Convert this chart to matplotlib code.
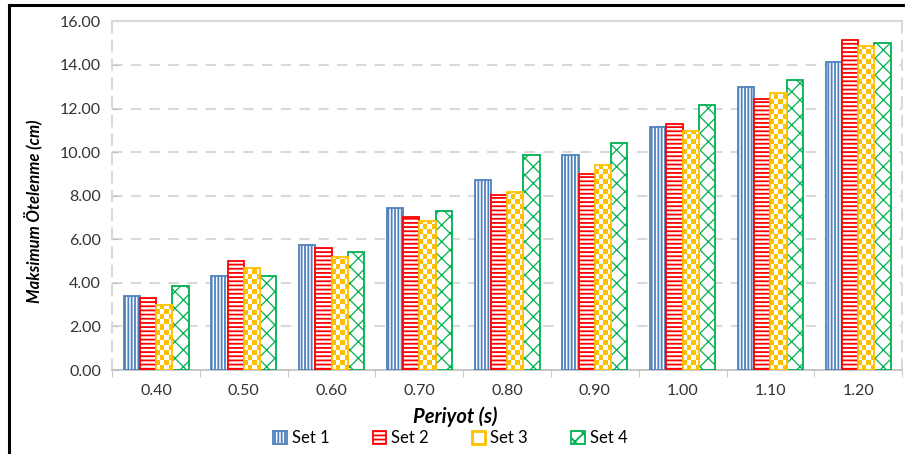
import numpy as np
import matplotlib
matplotlib.use('Agg')
import matplotlib.pyplot as plt
from matplotlib.colors import ListedColormap
from matplotlib.patches import Rectangle
from matplotlib.lines import Line2D

plt.rcParams['font.family'] = ['Lato', 'DejaVu Sans']
plt.rcParams['hatch.linewidth'] = 1.3

# Datos
periyot = ['0.40', '0.50', '0.60', '0.70', '0.80', '0.90', '1.00', '1.10', '1.20']
set1 = [3.40, 4.30, 5.73, 7.43, 8.73, 9.85, 11.15, 12.98, 14.15]
set2 = [3.30, 5.00, 5.60, 7.02, 8.03, 8.98, 11.31, 12.42, 15.15]
set3 = [3.00, 4.70, 5.19, 6.85, 8.15, 9.42, 10.97, 12.72, 14.88]
set4 = [3.86, 4.30, 5.42, 7.30, 9.85, 10.41, 12.15, 13.30, 15.00]
etiquetas = ['Set 1', 'Set 2', 'Set 3', 'Set 4']

azul = '#4F81BD'
rojo = '#FF0000'
naranja = '#FFC000'
verde = '#00B050'

fig = plt.figure(figsize=(9.05, 4.54), dpi=100)
ax = fig.add_axes([0.124, 0.185, 0.8727, 0.768])

x = np.arange(len(periyot))
w = 0.185
off = [-1.5 * w, -0.5 * w, 0.5 * w, 1.5 * w]

b1 = ax.bar(x + off[0], set1, w, color='white', edgecolor=azul, hatch='|||||', linewidth=1.3, zorder=3)
b2 = ax.bar(x + off[1], set2, w, color='white', edgecolor=rojo, hatch='----', linewidth=1.3, zorder=3)
b3 = ax.bar(x + off[2], set3, w, color='none', edgecolor=naranja, linewidth=1.3, zorder=4)
b4 = ax.bar(x + off[3], set4, w, color='white', edgecolor=verde, hatch='xx', linewidth=1.3, zorder=3)
for barra in b4:
    if hasattr(barra, 'set_hatch_linewidth'):
        barra.set_hatch_linewidth(0.9)

# damero para el Set 3
cmap_dam = ListedColormap(['white', naranja])
for barra in b3:
    x0 = barra.get_x()
    alto = barra.get_height()
    nx = 4
    ny = int(np.ceil(alto / 0.23))
    i, j = np.indices((ny, nx))
    damero = (i + j) % 2
    im = ax.imshow(damero, extent=(x0, x0 + w, 0, ny * 0.23), origin='lower',
                   cmap=cmap_dam, interpolation='nearest', aspect='auto', zorder=3)
    im.set_clip_path(barra)

ax.set_xlim(-0.5, len(periyot) - 0.5)
ax.set_ylim(0, 16)
ax.set_yticks(np.arange(0, 16.1, 2))
ax.set_yticklabels(['%.2f' % v for v in np.arange(0, 16.1, 2)])
ax.set_xticks(x)
ax.set_xticklabels(periyot)
ax.set_xticks(np.arange(-0.5, len(periyot)), minor=True)

ax.tick_params(axis='x', which='major', length=0, labelsize=11.5, colors='#333333', pad=10)
ax.tick_params(axis='x', which='minor', length=5, color='#BFBFBF', direction='out')
ax.tick_params(axis='y', length=4, direction='in', color='#BFBFBF', labelsize=11.5,
               labelcolor='#333333', pad=8)

ax.grid(axis='y', color='#D9D9D9', linestyle=(0, (5, 4)), linewidth=1.5, zorder=0)
for lado in ['left', 'right']:
    ax.spines[lado].set_color('#D9D9D9')
    ax.spines[lado].set_linestyle((0, (5, 4)))
    ax.spines[lado].set_linewidth(1.5)
ax.spines['top'].set_color('#D9D9D9')
ax.spines['top'].set_linewidth(1.5)
ax.spines['bottom'].set_color('#BFBFBF')
ax.spines['bottom'].set_linewidth(1.2)

ax.set_xlabel('Periyot (s)', fontsize=14.5, fontweight='bold', style='italic')
ax.xaxis.set_label_coords(0.434, -0.105)
ax.set_ylabel('Maksimum Ötelenme (cm)', fontsize=12, fontweight='bold', style='italic')
ax.yaxis.set_label_coords(-0.088, 0.455)

# leyenda
h3 = Rectangle((0, 0), 1, 1, facecolor='white', edgecolor=naranja, linewidth=2)
ax.legend([b1[0], b2[0], h3, b4[0]], etiquetas, loc='upper center',
          bbox_to_anchor=(0.428, -0.13), ncol=4, frameon=False, fontsize=12,
          handlelength=0.8, handleheight=0.8, handletextpad=0.3, columnspacing=2.6)

# marco negro del recorte
fig.add_artist(Line2D([8.5 / 905, 1], [1 - 4.5 / 454] * 2, color='black', lw=2.2, transform=fig.transFigure))
fig.add_artist(Line2D([8.5 / 905] * 2, [0, 1 - 4.5 / 454], color='black', lw=2.2, transform=fig.transFigure))

fig.savefig('out.png', dpi=100)
